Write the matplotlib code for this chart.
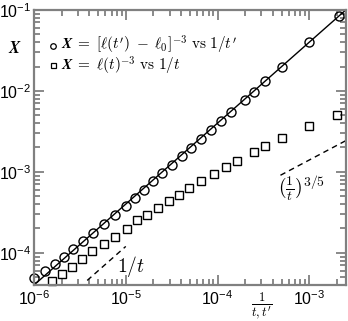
import numpy as np
import matplotlib
matplotlib.use("Agg")
import matplotlib.pyplot as plt
from matplotlib.ticker import LogLocator, NullFormatter

plt.rcParams['font.family'] = ['Liberation Sans Narrow', 'Liberation Sans', 'DejaVu Sans']

# circles: X = [l(t') - l0]^-3 vs 1/t'
x_circ = [1.0e-6, 1.32e-6, 1.69e-6, 2.13e-6, 2.67e-6, 3.43e-6, 4.41e-6, 5.77e-6,
          7.59e-6, 1.0e-5, 1.25e-5, 1.58e-5, 1.98e-5, 2.51e-5, 3.19e-5, 4.09e-5,
          5.18e-5, 6.65e-5, 8.39e-5, 1.10e-4, 1.41e-4, 1.97e-4, 2.48e-4, 3.32e-4,
          5.05e-4, 1.0e-3, 2.10e-3]
y_circ = [4.92e-5, 5.89e-5, 7.18e-5, 8.85e-5, 1.10e-4, 1.40e-4, 1.77e-4, 2.25e-4,
          2.96e-4, 3.75e-4, 4.75e-4, 6.04e-4, 7.65e-4, 9.80e-4, 1.23e-3, 1.56e-3,
          1.98e-3, 2.53e-3, 3.27e-3, 4.23e-3, 5.51e-3, 7.69e-3, 9.75e-3, 1.32e-2,
          1.99e-2, 4.06e-2, 8.43e-2]

# squares: X = l(t)^-3 vs 1/t
x_sq = [1.58e-6, 2.03e-6, 2.57e-6, 3.35e-6, 4.30e-6, 5.77e-6, 7.54e-6, 1.02e-5,
        1.33e-5, 1.72e-5, 2.24e-5, 2.93e-5, 3.80e-5, 4.87e-5, 6.53e-5, 9.05e-5,
        1.23e-4, 1.65e-4, 2.49e-4, 3.32e-4, 5.00e-4, 1.0e-3, 2.01e-3]
y_sq = [4.46e-5, 5.41e-5, 6.65e-5, 8.28e-5, 1.04e-4, 1.27e-4, 1.56e-4, 1.99e-4,
        2.57e-4, 2.90e-4, 3.57e-4, 4.32e-4, 5.25e-4, 6.32e-4, 7.65e-4, 9.53e-4,
        1.15e-3, 1.37e-3, 1.76e-3, 2.07e-3, 2.60e-3, 3.66e-3, 5.01e-3]

# fit line X = 40 x, guide lines
x_fit = [1e-6, 2.5e-3]
y_fit = [4e-5, 0.1]
x_guide1 = [3.8e-6, 1.0e-5]
y_guide1 = [4.56e-5, 1.2e-4]
x_guide2 = [4.85e-4, 2.5e-3]
y_guide2 = [9.08e-4, 2.43e-3]

labels = [r'$\mathbfit{X}\;=\;[\ell(t^{\prime})\;-\;\ell_0]^{-3}\ \mathrm{vs}\ 1/t^{\prime}$',
          r'$\mathbfit{X}\;=\;\ell(t)^{-3}\ \mathrm{vs}\ 1/t$']

fig = plt.figure(figsize=(3.48, 3.21), dpi=100)
ax = fig.add_axes([0.0977, 0.112, 0.896, 0.857])
ax.set_xscale('log')
ax.set_yscale('log')
ax.set_xlim(1e-6, 2.5e-3)
ax.set_ylim(4e-5, 0.1)

ax.plot(x_fit, y_fit, color='black', lw=1.0)
ax.plot(x_guide1, y_guide1, color='black', lw=1.0, ls=(0, (4, 3)))
ax.plot(x_guide2, y_guide2, color='black', lw=1.0, ls=(0, (4, 3)))
ax.plot(x_circ, y_circ, 'o', ms=6.5, mfc='none', mec='black', mew=1.0, clip_on=False)
ax.plot(x_sq, y_sq, 's', ms=5.5, mfc='none', mec='black', mew=1.0, clip_on=False)

# legend drawn by hand: small marker + math text
ax.plot([0.062], [0.870], 'o', ms=4, mfc='none', mec='black', mew=0.9,
        transform=ax.transAxes)
ax.plot([0.061], [0.799], 's', ms=3.6, mfc='none', mec='black', mew=0.9,
        transform=ax.transAxes)
ax.text(0.0865, 0.8545, labels[0], fontsize=11, math_fontfamily='cm',
        transform=ax.transAxes, va='baseline', ha='left')
ax.text(0.0865, 0.78, labels[1], fontsize=11, math_fontfamily='cm',
        transform=ax.transAxes, va='baseline', ha='left')

ax.text(1.15e-5, 6.7e-5, r'$1/t$', fontsize=14, math_fontfamily='cm',
        ha='center', va='center')
ax.text(8.3e-4, 6.4e-4, r'$(\frac{1}{t})^{3/5}$', fontsize=14, math_fontfamily='cm',
        ha='center', va='center')

ax.set_ylabel(r'$\mathbfit{X}$', fontsize=12, math_fontfamily='cm', rotation=0,
              va='center', ha='center')
ax.yaxis.set_label_coords(-0.061, 0.86)
ax.set_xlabel(r'$\frac{1}{t,t^{\prime}}$', fontsize=13, math_fontfamily='cm',
              va='center')
ax.xaxis.set_label_coords(0.731, -0.077)

gray = '#808080'
for s in ax.spines.values():
    s.set_color(gray)
    s.set_linewidth(1.6)
ax.xaxis.set_major_locator(LogLocator(base=10, numticks=10))
ax.yaxis.set_major_locator(LogLocator(base=10, numticks=10))
ax.xaxis.set_minor_locator(LogLocator(base=10, subs=np.arange(2, 10), numticks=20))
ax.yaxis.set_minor_locator(LogLocator(base=10, subs=np.arange(2, 10), numticks=20))
ax.xaxis.set_minor_formatter(NullFormatter())
ax.yaxis.set_minor_formatter(NullFormatter())
ax.tick_params(which='both', direction='in', top=True, right=True, color=gray,
               labelsize=11.5, width=1.3)
ax.tick_params(which='major', length=7, pad=3)
ax.tick_params(axis='y', which='major', pad=2)
ax.tick_params(which='minor', length=4)

fig.savefig('out.png', dpi=100)
